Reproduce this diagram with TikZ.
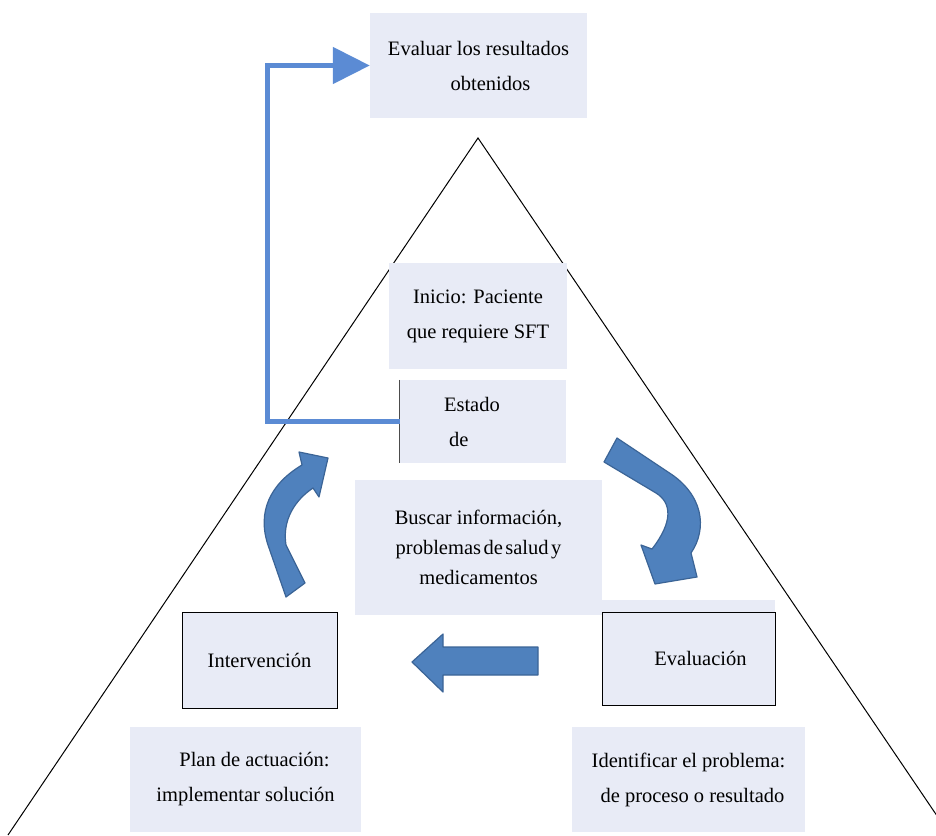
\documentclass[tikz,border=0pt]{standalone}
\usepackage{fontspec}
\setmainfont{Liberation Serif}
\usetikzlibrary{arrows.meta}
\definecolor{boxfill}{HTML}{E8EBF6}
\definecolor{linkblue}{HTML}{5B8BD4}
\definecolor{arrfill}{HTML}{4F81BD}
\definecolor{arredge}{HTML}{3B6496}
\tikzset{
    box/.style={fill=boxfill, inner sep=0pt, align=center, font=\fontsize{20.5}{35}\selectfont},
    framed/.style={box, draw=black, line width=1pt},
    blockarrow/.style={fill=arrfill, draw=arredge, line width=1.2pt, line join=round}
}
\begin{document}
\begin{tikzpicture}[x=1pt,y=-1pt] %piramide
            \useasboundingbox (0,0) rectangle (936,835);
            \begin{scope}
                \clip (0,0) rectangle (936,835);
                \draw[line width=1pt] (8,835) -- (478,138) -- (950,835);
            \end{scope}

            \node[box, minimum width=217pt, minimum height=105pt] (evaluar) at (478.5,65.5) {Evaluar los resultados\\ \hspace*{24pt}obtenidos};
            \node[box, minimum width=178pt, minimum height=106pt] (inicio) at (478,316) {Inicio: Paciente\\que requiere SFT};
            \node[box, minimum width=166pt, minimum height=83pt, text width=78pt, inner xsep=44pt, align=left] (estado) at (483,421.5) {Estado\\ \hspace*{5pt}de};
            \draw[gray!60!black, line width=0.8pt] (estado.north west) -- (estado.south west);
            \node[box, minimum width=247pt, minimum height=135pt, font=\fontsize{20.5}{30}\selectfont] (buscar) at (478.5,547.5) {Buscar información,\\{\spaceskip=0.12em problemas de salud y}\\medicamentos};
            \node[framed, minimum width=155pt, minimum height=96pt] (intervencion) at (259.5,660) {Intervención};
            \fill[boxfill] (602,600) rectangle (775,612);
            \node[framed, minimum width=173pt, minimum height=93pt] (evaluacion) at (688.5,658.5) {\hspace*{24pt}Evaluación};
            \node[box, minimum width=231pt, minimum height=105pt] (plan) at (245.5,779.5) {\hspace*{18pt}Plan de actuación:\\implementar solución};
            \node[box, minimum width=233pt, minimum height=105pt] (identificar) at (688.5,779.5) {Identificar el problema:\\ \hspace*{8pt}de proceso o resultado};

            \draw[linkblue, line width=5pt, -{Triangle[length=37pt,width=36pt]}] (estado.west) -- ++(-132,0) |- (evaluar.west);

            \filldraw[blockarrow] (286,597) -- (268,545) .. controls (257,512) and (270,484) .. (302,465) -- (299,452) -- (328,458) -- (319,497) -- (313,488) .. controls (295,500) and (282,520) .. (286,545) -- (305,583) -- cycle;
            \filldraw[blockarrow] (604,462) -- (617,438) -- (668,472) .. controls (703,494) and (708,528) .. (691,553) -- (697,577) -- (655,584) -- (641,545) -- (652,549) .. controls (673,522) and (672,503) .. (656,493) -- cycle;
            \filldraw[blockarrow] (538,647) -- (443,647) -- (443,634) -- (412,662) -- (443,692) -- (443,675) -- (538,675) -- cycle;
        \end{tikzpicture}
\end{document}
